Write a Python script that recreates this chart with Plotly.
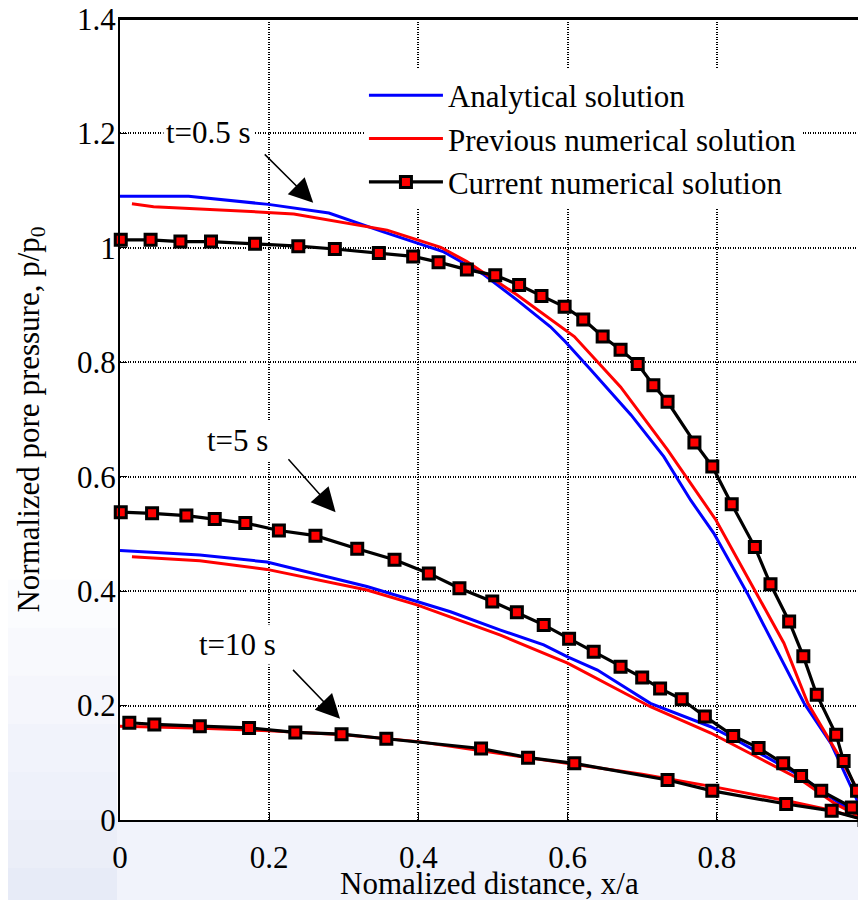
import plotly.graph_objects as go

# ---------------- data ----------------
# t = 0.5 s
ana_05_x = [0, 0.092, 0.199, 0.280, 0.353, 0.434, 0.488, 0.532, 0.577, 0.597, 0.631, 0.685, 0.729, 0.765, 0.796, 0.841, 0.917, 0.953, 0.980, 1.0]
ana_05_y = [1.090, 1.090, 1.076, 1.061, 1.028, 0.993, 0.953, 0.909, 0.862, 0.836, 0.787, 0.708, 0.635, 0.559, 0.501, 0.396, 0.204, 0.134, 0.058, 0.0]
prev_05_x = [0.016, 0.045, 0.197, 0.233, 0.358, 0.430, 0.465, 0.532, 0.609, 0.671, 0.734, 0.799, 0.890, 0.922, 0.962, 0.984, 1.0]
prev_05_y = [1.077, 1.072, 1.062, 1.059, 1.031, 1.001, 0.976, 0.918, 0.845, 0.757, 0.647, 0.524, 0.309, 0.204, 0.116, 0.064, 0.0]
cur_05_x = [0.001, 0.041, 0.081, 0.122, 0.181, 0.239, 0.288, 0.347, 0.393, 0.427, 0.465, 0.503, 0.535, 0.565, 0.596, 0.621, 0.647,
            0.671, 0.694, 0.715, 0.734, 0.770, 0.794, 0.820, 0.851, 0.872, 0.897, 0.916, 0.934, 0.960, 0.970, 0.988, 0.999]
cur_05_y = [1.014, 1.014, 1.011, 1.011, 1.007, 1.003, 0.998, 0.991, 0.985, 0.975, 0.962, 0.952, 0.935, 0.916, 0.897, 0.875, 0.845,
            0.822, 0.797, 0.760, 0.731, 0.660, 0.618, 0.552, 0.477, 0.412, 0.347, 0.286, 0.219, 0.149, 0.103, 0.051, 0.0]

# t = 5 s
ana_5_x = [0, 0.107, 0.197, 0.331, 0.398, 0.443, 0.510, 0.568, 0.600, 0.640, 0.711, 0.792, 0.823, 0.913, 0.958, 1.0]
ana_5_y = [0.471, 0.463, 0.451, 0.408, 0.382, 0.364, 0.332, 0.306, 0.285, 0.262, 0.204, 0.163, 0.142, 0.076, 0.035, 0.0]
prev_5_x = [0.016, 0.107, 0.197, 0.331, 0.398, 0.510, 0.600, 0.711, 0.792, 0.913, 0.958, 1.0]
prev_5_y = [0.460, 0.453, 0.438, 0.402, 0.376, 0.323, 0.274, 0.198, 0.152, 0.070, 0.029, 0.0]
cur_5_x = [0.001, 0.043, 0.089, 0.127, 0.168, 0.213, 0.262, 0.318, 0.368, 0.414, 0.455, 0.499, 0.532, 0.568, 0.602, 0.635, 0.671,
           0.700, 0.724, 0.753, 0.784, 0.822, 0.856, 0.889, 0.913, 0.940, 0.981, 0.999]
cur_5_y = [0.538, 0.536, 0.532, 0.526, 0.519, 0.506, 0.497, 0.474, 0.455, 0.431, 0.405, 0.382, 0.363, 0.341, 0.317, 0.294, 0.268,
           0.249, 0.230, 0.211, 0.181, 0.147, 0.126, 0.099, 0.077, 0.051, 0.022, 0.0]

# t = 10 s
prev_10_x = [0, 0.1, 0.2, 0.3, 0.4, 0.5, 0.6, 0.7, 0.8, 0.9, 0.95, 1.0]
prev_10_y = [0.164, 0.161, 0.156, 0.149, 0.137, 0.118, 0.100, 0.080, 0.057, 0.032, 0.018, 0.0]
cur_10_x = [0.0125, 0.046, 0.107, 0.173, 0.235, 0.297, 0.357, 0.484, 0.547, 0.609, 0.734, 0.794, 0.893, 0.954, 0.998]
cur_10_y = [0.170, 0.167, 0.164, 0.161, 0.153, 0.150, 0.142, 0.125, 0.109, 0.099, 0.070, 0.051, 0.028, 0.016, 0.0]

x_ticks = [0, 0.2, 0.4, 0.6, 0.8, 1.0]
x_tick_text = ["0", "0.2", "0.4", "0.6", "0.8", "1"]
y_ticks = [0, 0.2, 0.4, 0.6, 0.8, 1.0, 1.2, 1.4]
y_tick_text = ["0", "0.2", "0.4", "0.6", "0.8", "1", "1.2", "1.4"]

FONT = "Liberation Serif, Times New Roman, serif"
BLUE = "#0000ff"
RED = "#ff0000"

fig = go.Figure()

# analytical (blue)
for i, (xs, ys) in enumerate([(ana_05_x, ana_05_y), (ana_5_x, ana_5_y)]):
    fig.add_trace(go.Scatter(x=xs, y=ys, mode="lines", name="Analytical solution",
                             line=dict(color=BLUE, width=3), showlegend=(i == 0),
                             legendgroup="a"))
# previous numerical (red)
for i, (xs, ys) in enumerate([(prev_05_x, prev_05_y), (prev_5_x, prev_5_y), (prev_10_x, prev_10_y)]):
    fig.add_trace(go.Scatter(x=xs, y=ys, mode="lines", name="Previous numerical solution",
                             line=dict(color=RED, width=3), showlegend=(i == 0),
                             legendgroup="p"))
# current numerical (black w/ red squares)
for i, (xs, ys) in enumerate([(cur_05_x, cur_05_y), (cur_5_x, cur_5_y), (cur_10_x, cur_10_y)]):
    fig.add_trace(go.Scatter(x=xs, y=ys, mode="lines+markers", name="Current numerical solution",
                             line=dict(color="black", width=3.2),
                             marker=dict(symbol="square", size=11, color=RED,
                                         line=dict(color="black", width=3)),
                             showlegend=(i == 0), legendgroup="c", cliponaxis=False))

axis_common = dict(
    showline=True, linecolor="black", linewidth=2, mirror=True,
    ticks="inside", tickcolor="black", ticklen=7, tickwidth=1,
    showgrid=True, gridcolor="black", gridwidth=1.5, griddash="1px,1.5px",
    zeroline=False, automargin=False, ticklabeloverflow="allow",
    tickfont=dict(family=FONT, size=31, color="black"),
)

# the page body adds an 8px offset, so the figure is sized to fit the 866x900 window
fig.update_layout(
    width=858, height=892,
    margin=dict(l=112, r=0, t=11, b=80),
    paper_bgcolor="white", plot_bgcolor="white",
    font=dict(family=FONT, color="black"),
    xaxis=dict(range=[0, 1], tickvals=x_ticks, ticktext=x_tick_text,
               ticklabelstandoff=9, **axis_common),
    yaxis=dict(range=[0, 1.4], tickvals=y_ticks, ticktext=y_tick_text,
               ticklabelstandoff=-4, **axis_common),
    legend=dict(x=0.327, y=0.938, xanchor="left", yanchor="top",
                bgcolor="white", borderwidth=0, itemwidth=74,
                font=dict(family=FONT, size=31, color="black"),
                tracegroupgap=0),
    showlegend=True,
)

# faint slide background below / left of the axes
fig.add_shape(type="rect", xref="paper", yref="paper", x0=-0.16, x1=1.0, y0=-0.11, y1=0.0,
              fillcolor="#f1f3fb", line=dict(width=0), layer="below")
left_steps = [(0.30, "#fbfcfe"), (0.24, "#f8f9fd"), (0.18, "#f5f6fc"), (0.12, "#f1f3fb"),
              (0.06, "#eef1fa"), (0.0, "#ebeef8"), (-0.06, "#e7ebf7")]
for ytop, col in left_steps:
    fig.add_shape(type="rect", xref="paper", yref="paper", x0=-0.16, x1=-0.004, y0=-0.11, y1=ytop,
                  fillcolor=col, line=dict(width=0), layer="below")

# top border of the axes box
fig.add_shape(type="line", xref="paper", yref="paper", x0=0, x1=1, y0=1, y1=1,
              line=dict(color="black", width=2))

# axis titles (as annotations for precise placement)
fig.add_annotation(xref="paper", yref="paper", x=0.4955, y=-0.0787, xanchor="center", yanchor="middle",
                   text="Nomalized distance, x/a", showarrow=False,
                   font=dict(family=FONT, size=31, color="black"))
fig.add_annotation(xref="paper", yref="paper", x=-0.1206, y=0.5, xanchor="center", yanchor="middle",
                   text="Normalized pore pressure, p/p<sub>0</sub>", textangle=-90, showarrow=False,
                   font=dict(family=FONT, size=31, color="black"))

# text labels
for txt, xx, yy in [("t=0.5 s", 0.118, 1.201), ("t=5 s", 0.157, 0.663), ("t=10 s", 0.158, 0.306)]:
    fig.add_annotation(x=xx, y=yy, text=txt, showarrow=False, bgcolor="white",
                       font=dict(family=FONT, size=31, color="black"), borderpad=2)

# arrows
for tipx, tipy, tailx, taily in [(0.259, 1.079, 0.192, 1.166), (0.289, 0.538, 0.224, 0.633), (0.295, 0.177, 0.230, 0.265)]:
    fig.add_annotation(x=tipx, y=tipy, ax=tailx, ay=taily, axref="x", ayref="y",
                       text="", showarrow=True, arrowhead=2, arrowsize=3.2, arrowwidth=1.5,
                       arrowcolor="black")

fig.write_html("out.html")
